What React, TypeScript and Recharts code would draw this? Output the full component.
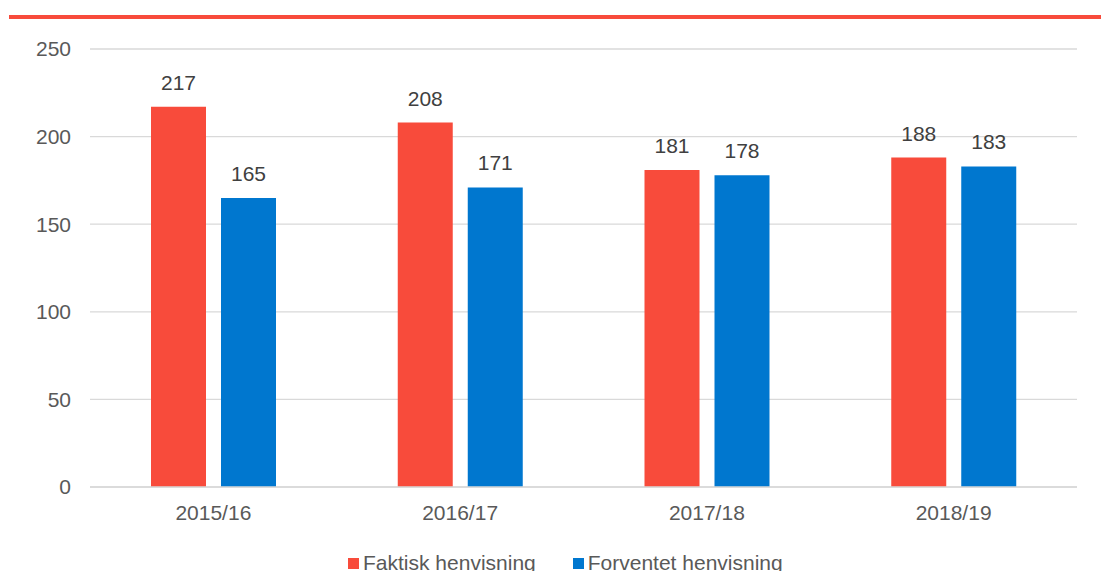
import React from "react";
import { BarChart, Bar, XAxis, YAxis, CartesianGrid, LabelList, Legend } from "recharts";

const categories = ["2015/16", "2016/17", "2017/18", "2018/19"];
const faktisk = [217, 208, 181, 188];
const forventet = [165, 171, 178, 183];
const yTicks = [0, 50, 100, 150, 200, 250];

const RED = "#F84B3B";
const BLUE = "#0077CF";
const FONT = "'Liberation Sans', Arial, sans-serif";

const data = categories.map((c, i) => ({ name: c, faktisk: faktisk[i], forventet: forventet[i] }));

const LegendContent = (props: any) => {
  const items = props.payload || [];
  return (
    <div style={{ position: "relative", top: 3, display: "flex", justifyContent: "flex-start", paddingLeft: 348, fontFamily: FONT, fontSize: 21, color: "#595959", lineHeight: "22px", height: 22, whiteSpace: "nowrap" }}>
      {items.map((it: any, i: number) => (
        <div key={i} style={{ display: "flex", alignItems: "center", marginLeft: i === 0 ? 0 : 37 }}>
          <div style={{ width: 11, height: 11, background: it.color, marginRight: 4 }} />
          <span>{it.value}</span>
        </div>
      ))}
    </div>
  );
};

export default function App() {
  return (
    <div style={{ position: "absolute", left: 0, top: 0, width: 1101, height: 571, background: "#fff", overflow: "hidden" }}>
      <div style={{ position: "absolute", left: 9, top: 15, width: 1092, height: 4, background: RED }} />
      <BarChart
        width={1101}
        height={571}
        data={data}
        margin={{ top: 49, right: 24, bottom: 0, left: 0 }}
        barSize={55}
        barGap={15}
        style={{ fontFamily: FONT }}
      >
        <CartesianGrid vertical={false} stroke="#d9d9d9" strokeWidth={1.3} />
        <XAxis
          dataKey="name"
          height={62}
          tickLine={false}
          tickSize={0}
          tickMargin={18}
          axisLine={{ stroke: "#d9d9d9", strokeWidth: 1.3 }}
          tick={{ fill: "#595959", fontSize: 21, fontFamily: FONT }}
        />
        <YAxis
          width={90}
          domain={[0, 250]}
          ticks={yTicks}
          axisLine={false}
          tickLine={false}
          tickSize={0}
          tickMargin={19}
          tick={{ fill: "#595959", fontSize: 21, fontFamily: FONT }}
        />
        <Legend verticalAlign="bottom" wrapperStyle={{ left: 0, width: 1101 }} content={<LegendContent />} />
        <Bar dataKey="faktisk" name="Faktisk henvisning" fill={RED} isAnimationActive={false}>
          <LabelList dataKey="faktisk" position="top" offset={17} fill="#404040" fontSize={21} fontFamily={FONT} />
        </Bar>
        <Bar dataKey="forventet" name="Forventet henvisning" fill={BLUE} isAnimationActive={false}>
          <LabelList dataKey="forventet" position="top" offset={17} fill="#404040" fontSize={21} fontFamily={FONT} />
        </Bar>
      </BarChart>
    </div>
  );
}
